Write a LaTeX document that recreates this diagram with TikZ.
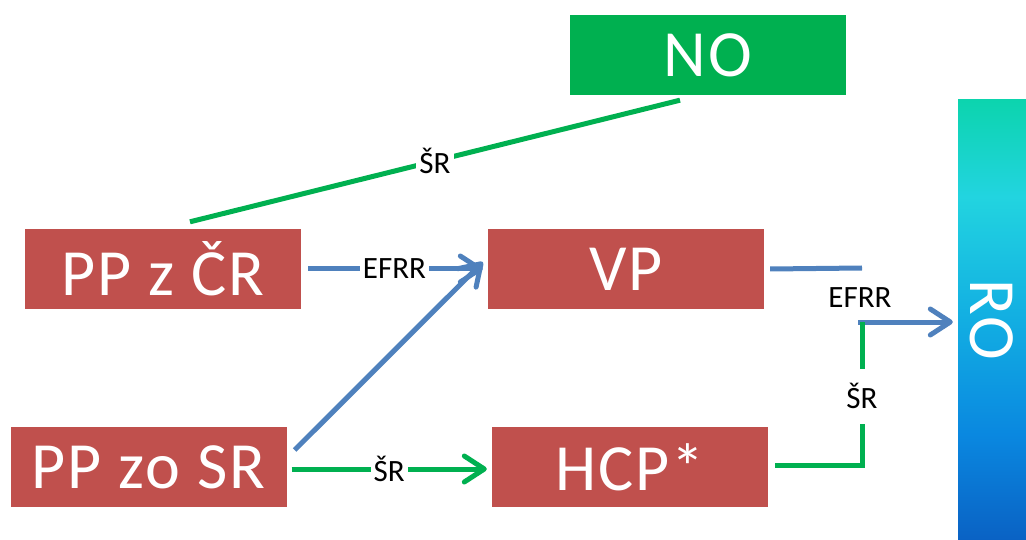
\documentclass[tikz,border=0pt]{standalone}
\usepackage{fontspec}
\setmainfont{Carlito}
\newfontfamily\boxfont[LetterSpace=3]{Carlito}
\usepackage{xcolor}
\usetikzlibrary{positioning,arrows.meta}

\definecolor{boxred}{HTML}{C0504D}
\definecolor{srgreen}{HTML}{00B050}
\definecolor{efblue}{HTML}{4F81BD}
\definecolor{rotop}{HTML}{0CD4AE}
\definecolor{rocyan}{HTML}{22D4E0}
\definecolor{romid}{HTML}{12AEE2}
\definecolor{rolow}{HTML}{0A88E0}
\definecolor{robot}{HTML}{0A62C4}

\pgfdeclareverticalshading{roshade}{100bp}{color(0bp)=(robot); color(25bp)=(robot);
  color(37bp)=(rolow); color(50bp)=(romid); color(64bp)=(rocyan); color(75bp)=(rotop);
  color(100bp)=(rotop)}

\begin{document}
\begin{tikzpicture}[x=1pt,y=-1pt,
  box/.style={rectangle,fill=boxred,text=white,minimum width=276pt,minimum height=80pt,
    font=\boxfont\fontsize{66}{70}\selectfont,inner sep=0pt},
  lbl/.style={fill=white,text=black,font=\fontsize{31}{33}\selectfont,inner sep=3pt},
  sr/.style={draw=srgreen,line width=5pt},
  ef/.style={draw=efblue,line width=5pt},
  tip/.style={-{Straight Barb[length=20pt,width=26pt,line cap=round,line join=round]}}]

\useasboundingbox (0,0) rectangle (1026,540);

\node[box,fill=srgreen] (no) at (708,55) {NO};
\node[box] (ppcr) at (163,269) {PP z ČR};
\node[box] (vp) at (626,269) {VP};
\node[box] (ppsr) at (148.5,467) {PP zo SR};
\node[box] (hcp) at (630,467) {HCP*};
\node[rectangle,minimum width=68pt,minimum height=440pt,inner sep=0pt,
  shading=roshade] (ro) at (992,320) {};
\node[text=white,font=\boxfont\fontsize{66}{70}\selectfont,rotate=-90] (rotxt) at (ro.center) {RO};

\coordinate (efa) at (862,268) ;
\coordinate (efb) at (858,322) ;
\coordinate (src) at (862,322) ;

% zeleny SR z CR do NO
\draw[sr] ([shift={(27,-7)}]ppcr.north) -- node[lbl] {ŠR} ([shift={(-28,5)}]no.south) ;

% EFRR
\draw[ef,tip,shorten <=7pt,shorten >=5pt] (ppcr.east) -- node[lbl] {EFRR} (vp.west) ;
\draw[ef,tip] ([shift={(8,-17)}]ppsr.east) -- ([shift={(-5,-7)}]vp.west) ;
\draw[ef] ([xshift=6pt]vp.east) -- (efa) ;
\node[lbl] (eflbl) at (860,298) {EFRR} ;
\draw[ef,tip,shorten >=5pt] (efb) -- (efb -| ro.west) ;

% SR
\draw[sr,tip,shorten <=5pt,shorten >=5pt] ([yshift=-2pt]ppsr.east) -- node[lbl] {ŠR} ([yshift=-2pt]hcp.west) ;
\draw[sr] ([shift={(7,-2)}]hcp.east) -| node[lbl,pos=0.74,inner ysep=15pt,inner xsep=2pt] {ŠR} (src) ;

\end{tikzpicture}
\end{document}
